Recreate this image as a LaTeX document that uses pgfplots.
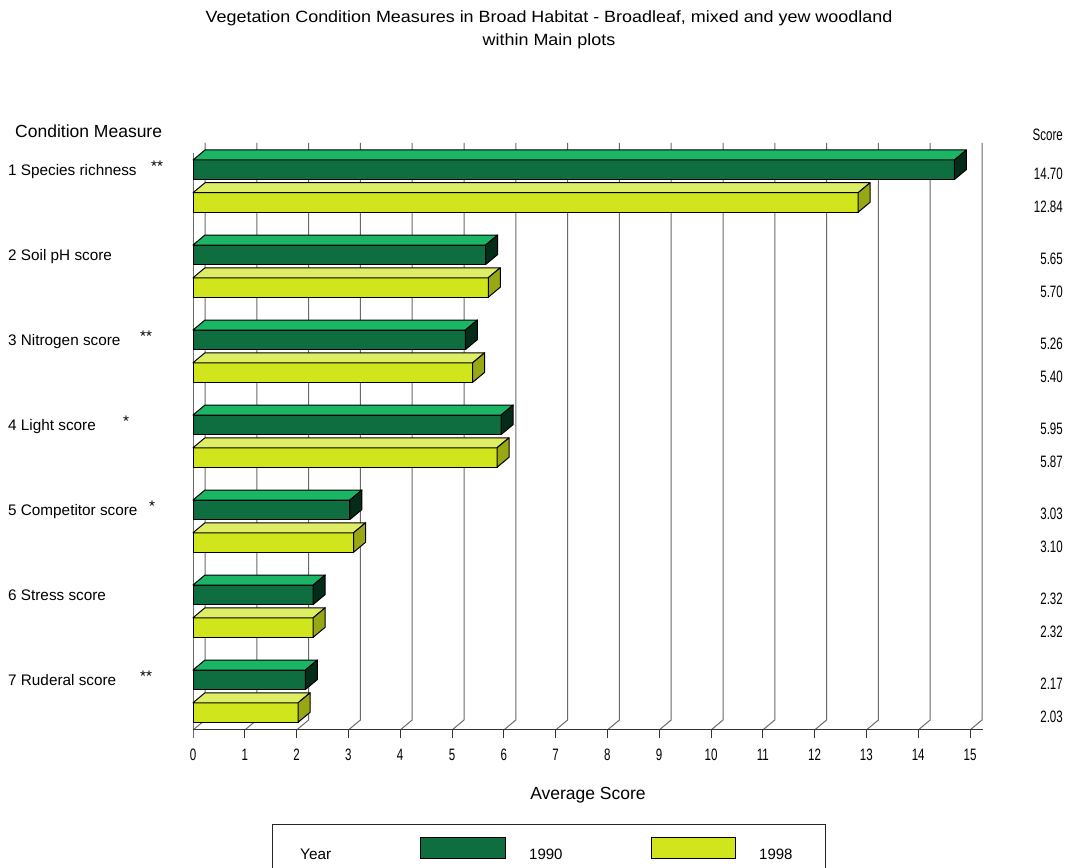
\documentclass[border=0pt]{standalone}
\usepackage{pgfplots}
\pgfplotsset{compat=1.18}
\usepackage{pgfplotstable}
\usepackage{fontspec}
\setmainfont{Liberation Sans}
\newfontfamily\numfont[FakeStretch=0.7]{Liberation Sans}
\newfontfamily\widefont[FakeStretch=1.1]{Liberation Sans}

\definecolor{front90}{RGB}{15,110,64}
\definecolor{top90}{RGB}{27,182,101}
\definecolor{side90}{RGB}{5,44,24}
\definecolor{front98}{RGB}{208,229,28}
\definecolor{top98}{RGB}{222,238,100}
\definecolor{side98}{RGB}{152,168,20}
\definecolor{wall}{RGB}{105,105,105}

% average score per condition measure; pos = vertical position of the bar centre
\pgfplotstableread{
pos     score
169.75  14.70
254.75  5.65
339.75  5.26
424.75  5.95
509.75  3.03
594.75  2.32
679.75  2.17
}\yearninety
\pgfplotstableread{
pos     score
202.5   12.84
287.5   5.70
372.5   5.40
457.5   5.87
542.5   3.10
627.5   2.32
712.5   2.03
}\yearninetyeight

% length of one score unit on the page
\def\unitpx{51.8}

\pgfplotsset{
  front face/.style={xbar, bar width=19.5, bar shift=0pt, fill=#1, draw=black, line width=1pt},
  depth faces/.style 2 args={
    scatter, only marks, mark=*, mark size=0pt,
    mark options={draw=none, fill=none},
    visualization depends on={rawx \as \barlen},
    scatter/@pre marker code/.code={%
      \pgfmathsetmacro\barpx{\barlen*\unitpx}%
      \pgfmathsetmacro\backx{12-\barpx}%
      \filldraw[fill=#1, draw=black, line width=1pt, line join=round]
        (-\barpx pt,9.75pt) -- (0pt,9.75pt) -- (12pt,19.75pt) -- (\backx pt,19.75pt) -- cycle;
      \filldraw[fill=#2, draw=black, line width=1pt, line join=round]
        (0pt,-9.75pt) -- (0pt,9.75pt) -- (12pt,19.75pt) -- (12pt,0.25pt) -- cycle;
    },
    scatter/@post marker code/.code={},
  },
}

\begin{document}
\begin{tikzpicture}
% back wall, floor and score ticks
\begin{scope}[x=1pt, y=-1pt, shift={(0pt,867pt)}]
  \foreach \t in {0,...,15} {
    \pgfmathsetmacro\tx{193+\t*\unitpx}
    \draw[wall, line width=1pt] (\tx+12,143) -- (\tx+12,720) -- (\tx,730);
    \draw[black!80, line width=1pt] (\tx,730) -- (\tx,738);
    \node[font=\numfont\fontsize{16.5}{16.5}\selectfont, anchor=base, inner sep=0pt] at (\tx,761) {\t};
  }
  \draw[wall, line width=1pt] (193,153) -- (193,738);
  \draw[black!80, line width=1pt] (193,730) -- (983,730);
\end{scope}

\begin{axis}[
  at={(0pt,0pt)}, anchor=south west,
  scale only axis, width=1073pt, height=867pt,
  xmin=-3.725869, xmax=16.988417,
  ymin=0, ymax=867, y dir=reverse,
  enlargelimits=false, hide axis, clip=false,
]
  \addplot[front face=front90] table[x=score, y=pos] {\yearninety};
  \addplot[depth faces={top90}{side90}] table[x=score, y=pos] {\yearninety};
  \addplot[front face=front98] table[x=score, y=pos] {\yearninetyeight};
  \addplot[depth faces={top98}{side98}] table[x=score, y=pos] {\yearninetyeight};
\end{axis}

% titles, category names, score column and legend
\begin{scope}[x=1pt, y=-1pt, shift={(0pt,867pt)},
  every node/.style={inner sep=0pt},
  lab/.style={font=\fontsize{15.3}{15.3}\selectfont, anchor=base west},
  num/.style={font=\numfont\fontsize{16.5}{16.5}\selectfont, anchor=base east}]
  \node[font=\widefont\fontsize{16.3}{16.3}\selectfont, anchor=base] at (549,23)
    {Vegetation Condition Measures in Broad Habitat - Broadleaf, mixed and yew woodland};
  \node[font=\widefont\fontsize{16.3}{16.3}\selectfont, anchor=base] at (549,46) {within Main plots};

  \node[font=\fontsize{17.5}{17.5}\selectfont, anchor=base west] at (15,138) {Condition Measure};
  \node[num] at (1063,141) {Score};

  \node[lab] at (8,175.5) {1 Species richness};
  \node[lab] at (8,260.5) {2 Soil pH score};
  \node[lab] at (8,345.5) {3 Nitrogen score};
  \node[lab] at (8,430.5) {4 Light score};
  \node[lab] at (8,515.5) {5 Competitor score};
  \node[lab] at (8,600.5) {6 Stress score};
  \node[lab] at (8,685.5) {7 Ruderal score};

  \node[lab] at (151,171.5) {**};
  \node[lab] at (140,341.5) {**};
  \node[lab] at (123,426.5) {*};
  \node[lab] at (149,511.5) {*};
  \node[lab] at (140,681.5) {**};

  \node[num] at (1063,179.5) {14.70};
  \node[num] at (1063,212.5) {12.84};
  \node[num] at (1063,264.5) {5.65};
  \node[num] at (1063,297.5) {5.70};
  \node[num] at (1063,349.5) {5.26};
  \node[num] at (1063,382.5) {5.40};
  \node[num] at (1063,434.5) {5.95};
  \node[num] at (1063,467.5) {5.87};
  \node[num] at (1063,519.5) {3.03};
  \node[num] at (1063,552.5) {3.10};
  \node[num] at (1063,604.5) {2.32};
  \node[num] at (1063,637.5) {2.32};
  \node[num] at (1063,689.5) {2.17};
  \node[num] at (1063,722.5) {2.03};

  \node[font=\fontsize{17.5}{17.5}\selectfont, anchor=base] at (588,800) {Average Score};

  \draw[black!85, line width=1pt] (272.5,868) -- (272.5,824.5) -- (825.5,824.5) -- (825.5,868);
  \node[font=\fontsize{15.3}{15.3}\selectfont, anchor=base west] at (300,860) {Year};
  \filldraw[fill=front90, draw=black, line width=1pt] (420,838) rectangle (505,858);
  \node[font=\fontsize{15}{15}\selectfont, anchor=base west] at (529,860) {1990};
  \filldraw[fill=front98, draw=black, line width=1pt] (651,838) rectangle (735,858);
  \node[font=\fontsize{15}{15}\selectfont, anchor=base west] at (759,860) {1998};
\end{scope}
\pgfresetboundingbox
\path[use as bounding box] (0pt,0pt) rectangle (1073pt,867pt);
\end{tikzpicture}
\end{document}
